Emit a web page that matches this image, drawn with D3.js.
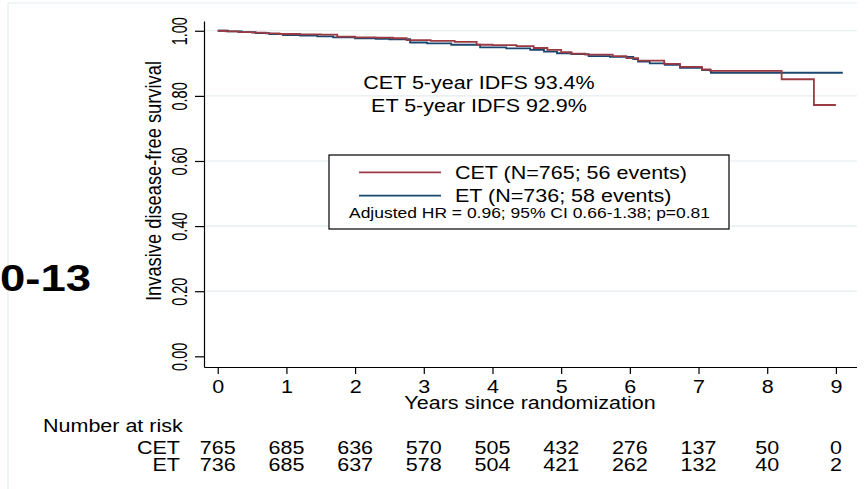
<!DOCTYPE html>
<html>
<head>
<meta charset="utf-8">
<script src="https://cdn.jsdelivr.net/npm/d3@7"></script>
<style>
  body { margin: 0; background: #fff; }
  text { font-family: "Liberation Sans", Arial, sans-serif; fill: #000; }
</style>
</head>
<body>
<div id="chart"></div>
<script>
// values
const yearTicks = [0, 1, 2, 3, 4, 5, 6, 7, 8, 9];
const survTicks = [0, 0.2, 0.4, 0.6, 0.8, 1.0];
const riskCET = [765, 685, 636, 570, 505, 432, 276, 137, 50, 0];
const riskET = [736, 685, 637, 578, 504, 421, 262, 132, 40, 2];

const cetTime = [0, 0.12, 0.3, 0.5, 0.7, 0.9, 1.2, 1.5, 1.74, 2.0, 2.3, 2.55, 2.75, 3.1, 3.45, 3.77, 4.0, 4.35, 4.6, 4.8, 5.0, 5.15, 5.35, 5.75, 5.95, 6.12, 6.5, 6.73, 7.05, 7.17, 8.21, 8.68, 9.0];
const cetSurv = [1.0, 0.998, 0.996, 0.994, 0.992, 0.990, 0.989, 0.988, 0.982, 0.980, 0.979, 0.977, 0.971, 0.969, 0.966, 0.957, 0.956, 0.953, 0.947, 0.941, 0.934, 0.930, 0.927, 0.922, 0.916, 0.908, 0.898, 0.889, 0.881, 0.877, 0.851, 0.772, 0.772];

const etTime = [0, 0.15, 0.35, 0.55, 0.75, 0.95, 1.2, 1.45, 1.68, 2.0, 2.3, 2.5, 2.8, 3.05, 3.4, 3.82, 4.2, 4.55, 4.75, 4.94, 5.15, 5.4, 5.71, 6.05, 6.12, 6.29, 6.51, 6.73, 7.05, 7.18, 9.1];
const etSurv = [1.0, 0.998, 0.996, 0.993, 0.990, 0.987, 0.985, 0.983, 0.980, 0.977, 0.975, 0.974, 0.964, 0.961, 0.957, 0.949, 0.946, 0.941, 0.936, 0.931, 0.928, 0.922, 0.920, 0.913, 0.905, 0.900, 0.895, 0.886, 0.879, 0.871, 0.871];

const legendLabels = ['CET (N=765; 56 events)', 'ET (N=736; 58 events)'];
const hrText = 'Adjusted HR = 0.96; 95% CI 0.66-1.38; p=0.81';
const idfsNotes = ['CET 5-year IDFS 93.4%', 'ET 5-year IDFS 92.9%'];

const red = '#9b3a42';
const blue = '#1a476f';
const SX = 1.15; // the picture is a bit stretched sideways
const FS = 18.7;

const width = 867, height = 489;
const svg = d3.select('#chart').append('svg')
  .attr('width', width).attr('height', height);

const x = d3.scaleLinear().domain([-0.2, 9.3]).range([204, 856.5]);
const y = d3.scaleLinear().domain([-0.0328, 1.03]).range([367, 21]);

// helper for stretched text
function label(g, str, px, py, size, anchor, weight, sx) {
  return g.append('text')
    .attr('transform', `translate(${px},${py}) scale(${sx || SX},1)`)
    .attr('text-anchor', anchor || 'start')
    .style('font-size', size + 'px')
    .style('font-weight', weight || 'normal')
    .text(str);
}

// faint frame left from the original figure
svg.append('path')
  .attr('d', 'M8,489V3H857')
  .attr('fill', 'none').attr('stroke', '#e3ebef').attr('stroke-width', 1.2);

// grid
svg.append('g').selectAll('line')
  .data(survTicks.filter(d => d > 0))
  .enter().append('line')
  .attr('x1', 204).attr('x2', 857)
  .attr('y1', d => y(d)).attr('y2', d => y(d))
  .attr('stroke', '#e4ecef').attr('stroke-width', 1.2);

// axes
const xAxis = svg.append('g')
  .attr('transform', 'translate(0,367)')
  .call(d3.axisBottom(x).tickValues(yearTicks).tickSize(7).tickSizeOuter(0).tickFormat(d3.format('d')));
xAxis.select('.domain').attr('stroke', '#000').attr('stroke-width', 1.2);
xAxis.selectAll('.tick line').attr('stroke', '#000').attr('stroke-width', 1.2);
xAxis.selectAll('.tick text')
  .attr('y', null).attr('dy', null)
  .attr('transform', `translate(0,25.5) scale(${SX},1)`)
  .style('font-size', FS + 'px').style('font-family', '"Liberation Sans", Arial, sans-serif');

const yAxis = svg.append('g')
  .attr('transform', 'translate(204,0)')
  .call(d3.axisLeft(y).tickValues(survTicks).tickSize(9).tickSizeOuter(0).tickFormat(d3.format('.2f')));
yAxis.select('.domain').attr('stroke', '#000').attr('stroke-width', 1.2);
yAxis.selectAll('.tick line').attr('stroke', '#000').attr('stroke-width', 1.2);
// rotated tick labels, glyphs centred about 25px left of the axis
yAxis.selectAll('.tick text')
  .attr('x', null).attr('dy', null)
  .attr('text-anchor', 'middle')
  .attr('transform', `translate(-25,0) rotate(-90) scale(1,1.5) translate(0,5.2)`)
  .style('font-size', '14.5px').style('font-family', '"Liberation Sans", Arial, sans-serif');

// axis titles
label(svg, 'Years since randomization', 530, 409, FS, 'middle');
svg.append('text')
  .attr('transform', `translate(161,181) rotate(-90) scale(1,1.2)`)
  .attr('text-anchor', 'middle')
  .style('font-size', '18.3px')
  .text('Invasive disease-free survival');

// survival curves
const line = d3.line()
  .x(d => x(d[0])).y(d => y(d[1]))
  .curve(d3.curveStepAfter);

svg.append('path')
  .datum(etTime.map((t, i) => [t, etSurv[i]]))
  .attr('d', line)
  .attr('fill', 'none').attr('stroke', blue).attr('stroke-width', 1.8);

svg.append('path')
  .datum(cetTime.map((t, i) => [t, cetSurv[i]]))
  .attr('d', line)
  .attr('fill', 'none').attr('stroke', red).attr('stroke-width', 1.8);

// 5-year notes
label(svg, idfsNotes[0], 479, 89, FS, 'middle');
label(svg, idfsNotes[1], 479, 111.5, FS, 'middle');

// legend
const leg = svg.append('g');
leg.append('rect')
  .attr('x', 329).attr('y', 155).attr('width', 400).attr('height', 74)
  .attr('fill', '#fff').attr('stroke', '#000').attr('stroke-width', 1.2);
[red, blue].forEach((c, i) => {
  const ly = 172.3 + i * 23.4;
  leg.append('line')
    .attr('x1', 359).attr('x2', 441).attr('y1', ly).attr('y2', ly)
    .attr('stroke', c).attr('stroke-width', 1.8);
  label(leg, legendLabels[i], 455, ly + 6.5, FS);
});
label(leg, hrText, 529.5, 218, 15.2, 'middle');

// panel tag
label(svg, '0-13', 0, 291, 37, 'start', 'bold', 1.23);

// number at risk table
label(svg, 'Number at risk', 43, 431.5, FS);
const riskRows = [['CET', riskCET], ['ET', riskET]];
riskRows.forEach((r, i) => {
  const by = 454 + i * 17;
  label(svg, r[0], 180, by, FS, 'end');
  r[1].forEach((v, j) => label(svg, v, x(yearTicks[j]), by, FS, 'middle'));
});
</script>
</body>
</html>
